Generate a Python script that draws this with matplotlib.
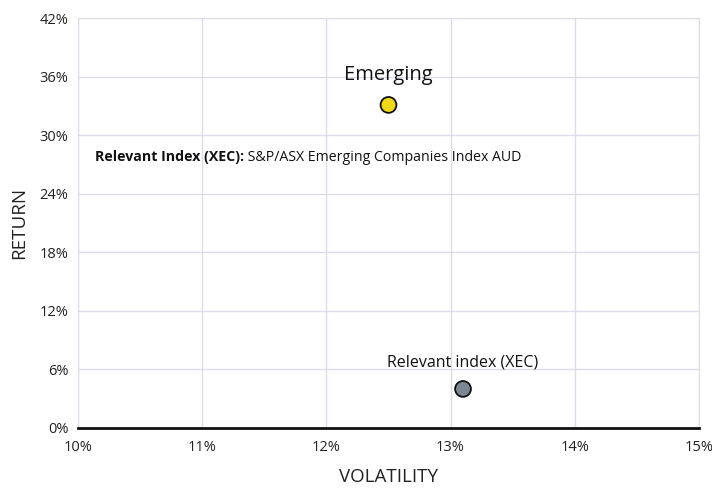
import matplotlib
matplotlib.use("Agg")
from matplotlib import pyplot as plt
from matplotlib.ticker import FuncFormatter

# данные
names = ["Emerging", "Relevant index (XEC)"]
volatility = [12.5, 13.1]
returns = [33.1, 4.0]
colors = ["#f0d817", "#7d8791"]
x_ticks = [10, 11, 12, 13, 14, 15]
y_ticks = [0, 6, 12, 18, 24, 30, 36, 42]

plt.rcParams['font.family'] = ['Open Sans', 'DejaVu Sans']

fig = plt.figure(figsize=(7.12, 4.88), dpi=100)
ax = fig.add_axes([0.1096, 0.123, 0.8721, 0.840])

ax.set_xlim(10, 15)
ax.set_ylim(0, 42)
ax.set_xticks(x_ticks)
ax.set_yticks(y_ticks)
ax.xaxis.set_major_formatter(FuncFormatter(lambda v, p: f"{v:.0f}%"))
ax.yaxis.set_major_formatter(FuncFormatter(lambda v, p: f"{v:.0f}%"))
ax.grid(True, color="#dcdce8", linewidth=1)
ax.set_axisbelow(True)
ax.tick_params(length=0, labelsize=10.5, colors="#222222")
ax.tick_params(axis="x", pad=9)
ax.tick_params(axis="y", pad=7)

for s in ["top", "right", "left"]:
    ax.spines[s].set_color("#dcdce8")
ax.spines["bottom"].set_color("#111111")
ax.spines["bottom"].set_linewidth(2)

ax.scatter(volatility, returns, s=130, c=colors, edgecolors="#111111",
           linewidths=1.3, zorder=3)

# подписи точек
ax.annotate(names[0], (volatility[0], returns[0]), xytext=(0, 14),
            textcoords="offset points", ha="center", va="bottom",
            fontsize=14.5, color="#111111")
ax.annotate(names[1], (volatility[1], returns[1]), xytext=(0, 13),
            textcoords="offset points", ha="center", va="bottom",
            fontsize=11.5, color="#111111")

t1 = ax.text(10.14, 27.4, "Relevant Index (XEC):", fontsize=10.2, fontweight="bold",
             va="baseline", ha="left", color="#111111")
fig.canvas.draw()
bb = t1.get_window_extent()
x2 = ax.transData.inverted().transform((bb.x1, 0))[0]
ax.text(x2, 27.4, " S&P/ASX Emerging Companies Index AUD", fontsize=10.2,
        va="baseline", ha="left", color="#111111")

ax.set_xlabel("VOLATILITY", fontsize=13.5, labelpad=9, color="#222222")
ax.set_ylabel("RETURN", fontsize=13.5, labelpad=8, color="#222222")

plt.savefig("out.png", dpi=100)
